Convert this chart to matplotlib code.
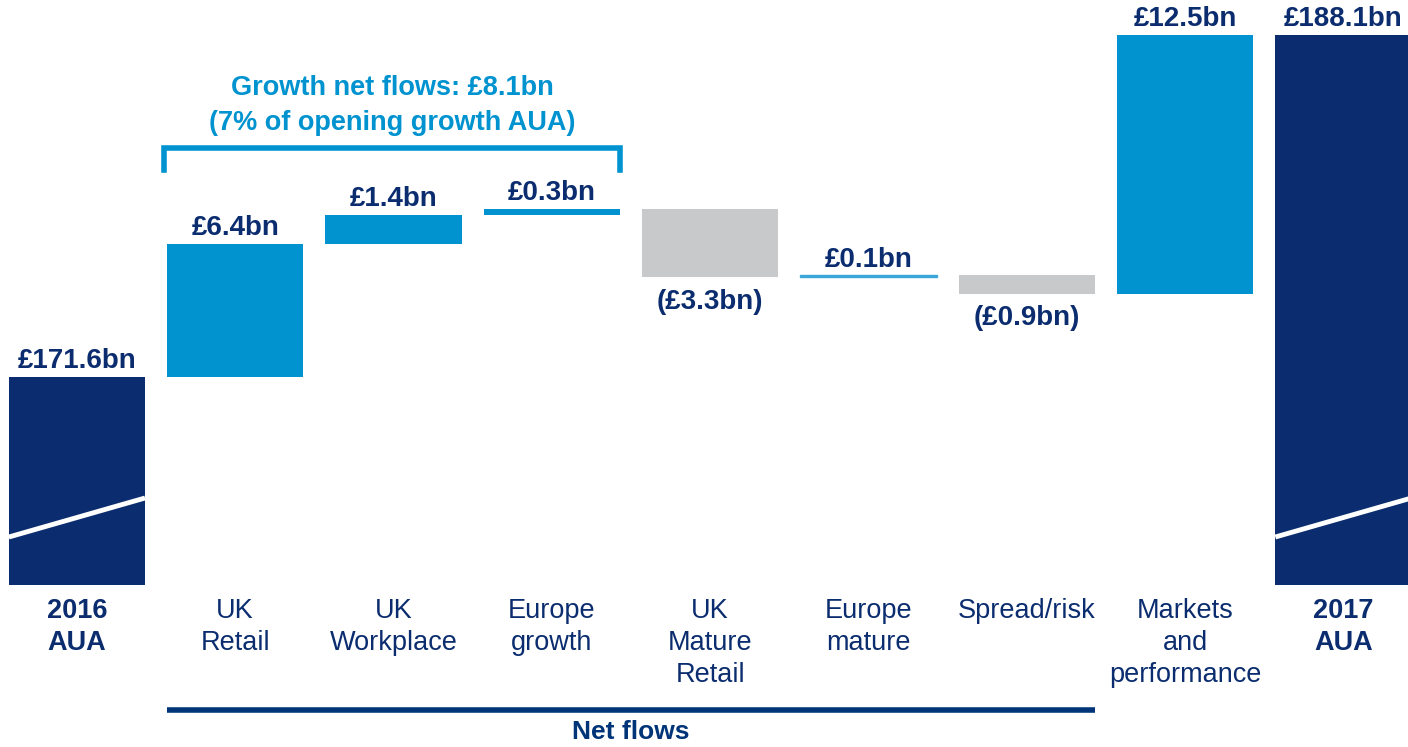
import matplotlib
matplotlib.use("Agg")
import matplotlib.pyplot as plt
from matplotlib import transforms

plt.rcParams['font.family'] = ['Liberation Sans', 'DejaVu Sans']

# data
categories = ["2016\nAUA", "UK\nRetail", "UK\nWorkplace", "Europe\ngrowth",
              "UK\nMature\nRetail", "Europe\nmature", "Spread/risk",
              "Markets\nand\nperformance", "2017\nAUA"]
opening = 171.6
flows = [6.4, 1.4, 0.3, -3.3, 0.1, -0.9, 12.5]
closing = 188.1
value_labels = ["£171.6bn", "£6.4bn", "£1.4bn", "£0.3bn", "(£3.3bn)",
                "£0.1bn", "(£0.9bn)", "£12.5bn", "£188.1bn"]
growth_text = "Growth net flows: £8.1bn\n(7% of opening growth AUA)"

NAVY = "#0b2d6f"
BLUE = "#0093cf"
LIGHT = "#3ba6d8"
GREY = "#c8c9cb"
base = 161.6  # broken axis, bars start here
width = 0.86

fig = plt.figure(figsize=(14.08, 7.47), dpi=100)
ax = fig.add_axes([0, 0, 1, 1])
ax.set_xlim(-0.486, 8.408)
ax.set_ylim(153.77, 189.77)
ax.axis("off")

# totals
for i, v in [(0, opening), (8, closing)]:
    ax.bar(i, v - base, bottom=base, width=width, color=NAVY)
    # axis break line
    ax.plot([i - width / 2, i + width / 2], [163.89, 165.77], color="white", lw=3.5, solid_capstyle="butt")

# floating bars
level = opening
for k, f in enumerate(flows):
    i = k + 1
    bottom = level if f > 0 else level + f
    if f < 0:
        col = GREY
    elif i == 5:
        col = LIGHT
    else:
        col = BLUE
    ax.bar(i, abs(f), bottom=bottom, width=width, color=col,
           edgecolor=col, linewidth=1 if abs(f) < 0.2 else 0)
    level += f

# value labels
tops = [opening]
lvl = opening
for f in flows:
    tops.append(max(lvl, lvl + f) if f > 0 else lvl + f)
    lvl += f
tops.append(closing)
for i, lab in enumerate(value_labels):
    if lab.startswith("("):
        ax.annotate(lab, (i, tops[i]), xytext=(0, -8), textcoords="offset points",
                    ha="center", va="top", fontsize=20, fontweight="bold", color=NAVY)
    else:
        ax.annotate(lab, (i, tops[i]), xytext=(0, 2), textcoords="offset points",
                    ha="center", va="bottom", fontsize=20, fontweight="bold", color=NAVY)

# category labels
tr = transforms.blended_transform_factory(ax.transData, ax.transAxes)
for i, c in enumerate(categories):
    bold = i in (0, 8)
    ax.text(i, 0.2, c, transform=tr, ha="center", va="top", fontsize=19.5,
            fontweight="bold" if bold else "normal", color=NAVY, linespacing=1.32)

# growth bracket
ax.plot([0.55, 0.55, 3.43, 3.43], [0.772, 0.802, 0.802, 0.772], transform=tr,
        color=BLUE, lw=4, solid_joinstyle="miter")
ax.text(1.99, 0.859, growth_text, transform=tr, ha="center", va="center",
        fontsize=19.5, fontweight="bold", color=BLUE, linespacing=1.45)

# net flows bar
ax.plot([1 - width / 2, 6 + width / 2], [0.0495, 0.0495], transform=tr,
        color="#003478", lw=4, solid_capstyle="butt")
ax.text(3.5, 0.020, "Net flows", transform=tr, ha="center", va="center",
        fontsize=19, fontweight="bold", color="#003478")

fig.savefig("out.png", dpi=100)
